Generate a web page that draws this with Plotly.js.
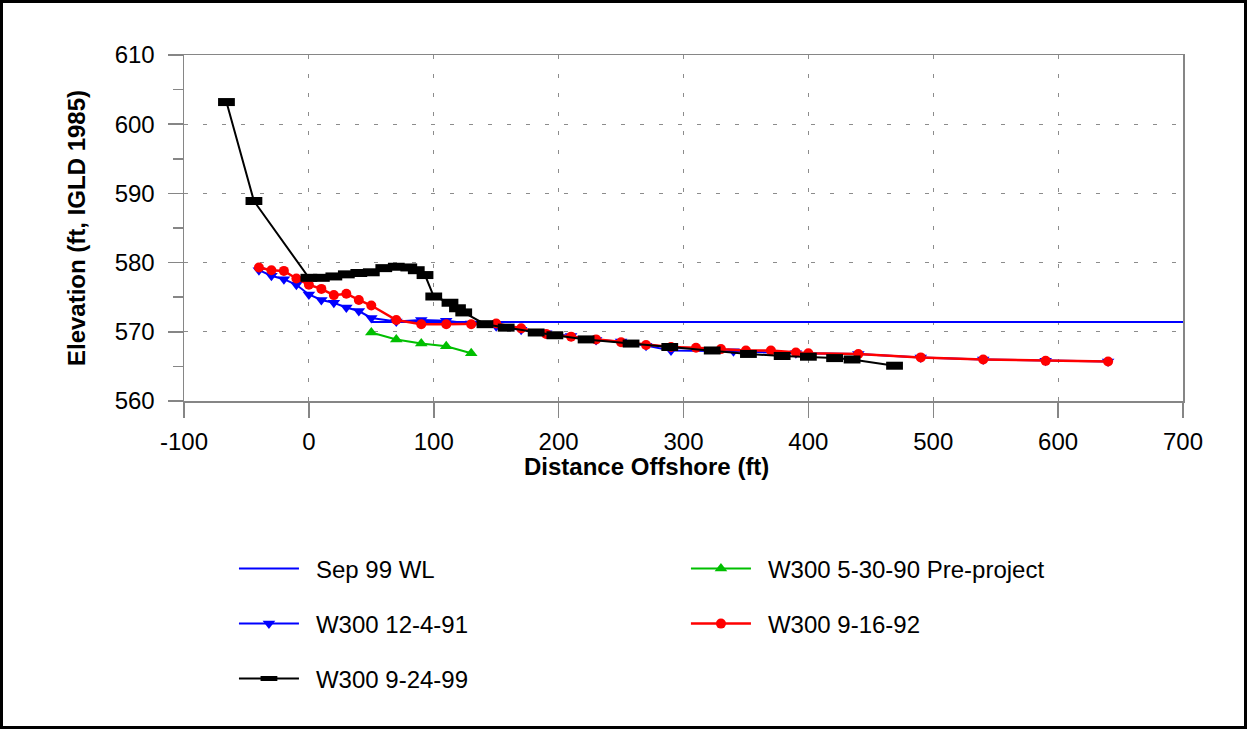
<!DOCTYPE html>
<html><head><meta charset="utf-8">
<script src="https://cdn.plot.ly/plotly-3.0.1.min.js"></script>
<style>
html,body{margin:0;padding:0;background:#fff;}
#wrap{width:1247px;height:729px;box-sizing:border-box;border:3px solid #000;background:#fff;}
#chart{width:1241px;height:723px;}
</style></head><body><div id="wrap"><div id="chart"></div></div>
<script>
// Sep 99 water level
const wlX = [50, 700];
const wlY = [571.4, 571.4];
// W300 5-30-90 Pre-project
const greenX = [50, 70, 90, 110, 130];
const greenY = [569.9, 568.9, 568.3, 567.9, 566.9];
// W300 12-4-91
const blueX = [-40,-30,-20,-10,0,10,20,30,40,50,70,90,110,130,150,170,190,210,230,250,270,290,340,390,440,490,540,590,640];
const blueY = [578.9,578.1,577.6,576.8,575.4,574.6,574.2,573.5,573.0,572.0,571.5,571.7,571.6,571.2,570.8,570.3,569.8,569.4,568.8,568.6,568.0,567.3,567.2,566.9,566.8,566.3,566.0,565.8,565.7];
// W300 9-16-92
const redX = [-40,-30,-20,-10,0,10,20,30,40,50,70,90,110,130,150,170,190,210,230,250,270,290,310,330,350,370,390,400,440,490,540,590,640];
const redY = [579.3,578.9,578.8,577.7,576.8,576.2,575.3,575.5,574.6,573.8,571.7,571.1,571.1,571.1,571.2,570.5,569.7,569.3,568.9,568.5,568.1,567.8,567.7,567.5,567.3,567.3,567.0,566.9,566.8,566.3,566.0,565.8,565.7];
// W300 9-24-99
const blackX = [-66,-44,0,10,20,30,40,50,60,70,80,86,93,100,113,119,124,141,158,182,197,222,258,289,323,352,379,400,421,435,469];
const blackY = [603.2,588.9,577.8,577.8,578.0,578.3,578.5,578.6,579.2,579.4,579.3,578.9,578.2,575.1,574.2,573.4,572.8,571.1,570.6,569.9,569.5,568.9,568.3,567.8,567.3,566.8,566.5,566.4,566.2,566.0,565.1];

const xTicks = [-100,0,100,200,300,400,500,600,700];
const xTickLabels = ['-100','0','100','200','300','400','500','600','700'];
const yTicks = [560,570,580,590,600,610];

const FONT = '"Liberation Sans", Arial, sans-serif';
const AX = '#868686';
const FS = 24;
const SP = '\u2002';

const traces = [
  {x: wlX, y: wlY, name: SP + 'Sep 99 WL', mode: 'lines', line: {color: '#0000ff', width: 2}, legend: 'legend'},
  {x: greenX, y: greenY, name: SP + 'W300 5-30-90 Pre-project', mode: 'lines+markers',
   line: {color: '#00bf00', width: 2}, marker: {symbol: 'triangle-up', size: 11, color: '#00bf00'}, legend: 'legend'},
  {x: blueX, y: blueY, name: SP + 'W300 12-4-91', mode: 'lines+markers',
   line: {color: '#0000ff', width: 2}, marker: {symbol: 'triangle-down', size: 11, color: '#0000ff'}, legend: 'legend2'},
  {x: redX, y: redY, name: SP + 'W300 9-16-92', mode: 'lines+markers',
   line: {color: '#ff0000', width: 2.5}, marker: {symbol: 'circle', size: 10, color: '#ff0000'}, legend: 'legend2'},
  {x: blackX, y: blackY, name: SP + 'W300 9-24-99', mode: 'lines+markers',
   line: {color: '#000000', width: 2},
   marker: {symbol: 'line-ew', size: 12, color: '#000000', line: {color: '#000000', width: 8}}, legend: 'legend3'}
];

const legBase = {orientation: 'h', xanchor: 'left', yanchor: 'middle', x: 0.05,
  entrywidth: 377, entrywidthmode: 'pixels', itemwidth: 60,
  font: {family: FONT, size: FS, color: '#000'}, bgcolor: 'rgba(0,0,0,0)', traceorder: 'normal'};

const layout = {
  width: 1241, height: 723,
  margin: {l: 181, r: 61, t: 52, b: 325},
  paper_bgcolor: '#fff', plot_bgcolor: '#fff',
  font: {family: FONT, size: FS, color: '#000'},
  showlegend: true,
  xaxis: {range: [-100, 700], tickvals: xTicks, ticktext: xTickLabels, ticks: 'outside', ticklen: 15, tickwidth: 1.5, tickcolor: AX,
    showline: true, linecolor: AX, linewidth: 1.5, mirror: true, zeroline: false,
    showgrid: true, gridcolor: '#8c8c8c', gridwidth: 1, griddash: '4px,15px',
    tickfont: {family: FONT, size: FS, color: '#000'}, ticklabelstandoff: 4},
  xaxis2: {range: [-100, 700], overlaying: 'x', anchor: 'y', side: 'bottom', tickvals: xTicks, ticks: 'inside', ticklen: 15,
    tickwidth: 1.5, tickcolor: AX, showticklabels: false, showgrid: false, showline: false, zeroline: false},
  yaxis: {range: [560, 610], tickvals: yTicks, ticks: 'outside', ticklen: 15, tickwidth: 1.5, tickcolor: AX,
    minor: {tick0: 560, dtick: 5, ticks: 'outside', ticklen: 10, tickwidth: 1.5, tickcolor: AX, showgrid: false},
    showline: true, linecolor: AX, linewidth: 1.5, mirror: true, zeroline: false,
    showgrid: true, gridcolor: '#8c8c8c', gridwidth: 1, griddash: '4px,15px',
    tickfont: {family: FONT, size: FS, color: '#000'}, ticklabelstandoff: 8,
    title: {text: 'Elevation (ft, IGLD 1985)', font: {family: FONT, size: FS, weight: 700, color: '#000'}, standoff: 22}},
  yaxis2: {range: [560, 610], overlaying: 'y', anchor: 'x', side: 'left', tickvals: yTicks, ticks: 'inside', ticklen: 15,
    tickwidth: 1.5, tickcolor: AX, showticklabels: false, showgrid: false, showline: false, zeroline: false,
    minor: {tick0: 560, dtick: 5, ticks: 'inside', ticklen: 10, tickwidth: 1.5, tickcolor: AX, showgrid: false}},
  annotations: [
    {text: 'Distance Offshore (ft)', xref: 'paper', yref: 'paper', x: 0.4625, y: -0.1879,
     xanchor: 'center', yanchor: 'middle', showarrow: false,
     font: {family: FONT, size: FS, weight: 700, color: '#000'}}
  ],
  legend: Object.assign({}, legBase, {y: -0.4855}),
  legend2: Object.assign({}, legBase, {y: -0.6445}),
  legend3: Object.assign({}, legBase, {y: -0.8035})
};

Plotly.newPlot('chart', traces, layout, {staticPlot: true, displayModeBar: false});
</script></body></html>
